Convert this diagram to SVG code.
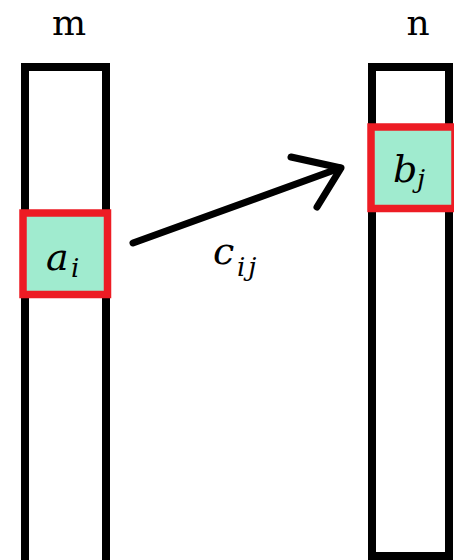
<svg xmlns="http://www.w3.org/2000/svg" width="454" height="560" viewBox="0 0 454 560">
<style>
.col{fill:#fff;stroke:#000;stroke-width:8}
.cell{fill:#a0ebcf;stroke:#ed1c24;stroke-width:7.5}
.lbl{font-family:"DejaVu Serif","Liberation Serif",serif;font-size:36px;fill:#000}
.math{font-family:"DejaVu Serif","Liberation Serif",serif;font-style:italic;fill:#000}
.conn{fill:none;stroke:#000;stroke-width:7;stroke-linecap:round;stroke-linejoin:round}
</style>
<rect width="454" height="560" fill="#fff"/>
<g id="col-m">
<rect class="col" x="25" y="67" width="81" height="497"/>
<text class="lbl" x="69" y="35" text-anchor="middle">m</text>
</g>
<g id="col-n">
<rect class="col" x="372" y="67" width="77" height="489"/>
<text class="lbl" x="418" y="35" text-anchor="middle">n</text>
</g>
<g id="cell-a">
<rect class="cell" x="23" y="213" width="84.5" height="81.5"/>
<text class="math" x="46" y="270" font-size="38">a</text>
<text class="math" x="71" y="277" font-size="26">i</text>
</g>
<g id="cell-b">
<rect class="cell" x="371" y="127" width="84" height="81.5"/>
<text class="math" x="393" y="182" font-size="38">b</text>
<text class="math" x="417" y="188" font-size="26">j</text>
</g>
<g id="connectors">
<path class="conn" d="M133,243 L340,168"/>
<path class="conn" d="M291,157 L341,168 L317,207"/>
<text class="math" x="213" y="264" font-size="38">c</text>
<text class="math" x="237" y="276" font-size="26" letter-spacing="3">ij</text>
</g>
</svg>
